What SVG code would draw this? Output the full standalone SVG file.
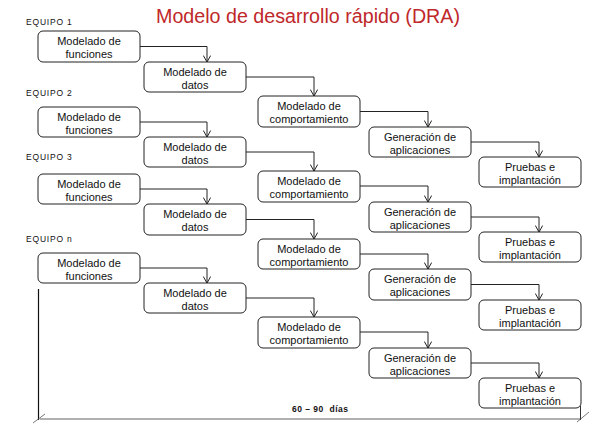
<svg xmlns="http://www.w3.org/2000/svg" width="613" height="429" viewBox="0 0 613 429">
<style>
.box{fill:#fff;stroke:#222;stroke-width:1}
.t{font-family:"Liberation Sans",Arial,sans-serif;font-size:11px;fill:#111;text-anchor:middle}
.eq{font-family:"Liberation Sans",Arial,sans-serif;font-size:8.5px;fill:#111;letter-spacing:0.8px}
.c{fill:none;stroke:#222;stroke-width:1}
</style>
<defs>
<marker id="ah" viewBox="0 0 8 8" refX="7.5" refY="4" markerWidth="8" markerHeight="8" markerUnits="userSpaceOnUse" orient="auto">
<path d="M1,0.3 L7.5,4 L1,7.7" fill="none" stroke="#222" stroke-width="1"/>
</marker>
</defs>
<rect width="613" height="429" fill="#fff"/>
<text x="308" y="23" font-family="'Liberation Sans',Arial,sans-serif" font-size="20" fill="#c0282b" text-anchor="middle" textLength="304" lengthAdjust="spacingAndGlyphs">Modelo de desarrollo rápido (DRA)</text>

<g id="labels">
<text class="eq" x="26" y="25">EQUIPO 1</text>
<text class="eq" x="26" y="96">EQUIPO 2</text>
<text class="eq" x="26" y="160">EQUIPO 3</text>
<text class="eq" x="26" y="242">EQUIPO n</text>
</g>

<g id="connectors">
<!-- team 1 -->
<path class="c" d="M140,46.5 H207 V62" marker-end="url(#ah)"/>
<path class="c" d="M246,77 H314 V96" marker-end="url(#ah)"/>
<path class="c" d="M360,111.5 H428 V127" marker-end="url(#ah)"/>
<path class="c" d="M471,142 H539 V157" marker-end="url(#ah)"/>
<!-- team 2 -->
<path class="c" d="M140,122 H207 V137" marker-end="url(#ah)"/>
<path class="c" d="M246,152 H314 V171" marker-end="url(#ah)"/>
<path class="c" d="M360,186 H428 V202" marker-end="url(#ah)"/>
<path class="c" d="M471,217 H539 V232" marker-end="url(#ah)"/>
<!-- team 3 -->
<path class="c" d="M140,189 H207 V204" marker-end="url(#ah)"/>
<path class="c" d="M246,219.5 H314 V239" marker-end="url(#ah)"/>
<path class="c" d="M360,254 H428 V269" marker-end="url(#ah)"/>
<path class="c" d="M471,284.5 H539 V300" marker-end="url(#ah)"/>
<!-- team n -->
<path class="c" d="M140,268 H207 V283" marker-end="url(#ah)"/>
<path class="c" d="M246,298 H314 V317" marker-end="url(#ah)"/>
<path class="c" d="M360,332 H428 V348" marker-end="url(#ah)"/>
<path class="c" d="M471,363 H539 V378" marker-end="url(#ah)"/>
</g>

<g id="team1">
<g id="f1"><rect class="box" x="38" y="31" width="102" height="31" rx="5"/><text class="t" x="89" y="45">Modelado de</text><text class="t" x="89" y="58">funciones</text></g>
<g id="d1"><rect class="box" x="144" y="62" width="102" height="30" rx="5"/><text class="t" x="195" y="76">Modelado de</text><text class="t" x="195" y="89">datos</text></g>
<g id="c1"><rect class="box" x="258" y="96" width="102" height="31" rx="5"/><text class="t" x="309" y="110">Modelado de</text><text class="t" x="309" y="123">comportamiento</text></g>
<g id="g1"><rect class="box" x="369" y="127" width="102" height="30" rx="5"/><text class="t" x="420" y="141">Generación de</text><text class="t" x="420" y="154">aplicaciones</text></g>
<g id="p1"><rect class="box" x="479" y="157" width="102" height="30" rx="5"/><text class="t" x="530" y="171">Pruebas e</text><text class="t" x="530" y="184">implantación</text></g>
</g>

<g id="team2">
<g id="f2"><rect class="box" x="38" y="107" width="102" height="30" rx="5"/><text class="t" x="89" y="121">Modelado de</text><text class="t" x="89" y="134">funciones</text></g>
<g id="d2"><rect class="box" x="144" y="137" width="102" height="30" rx="5"/><text class="t" x="195" y="151">Modelado de</text><text class="t" x="195" y="164">datos</text></g>
<g id="c2"><rect class="box" x="258" y="171" width="102" height="31" rx="5"/><text class="t" x="309" y="185">Modelado de</text><text class="t" x="309" y="198">comportamiento</text></g>
<g id="g2"><rect class="box" x="369" y="202" width="102" height="30" rx="5"/><text class="t" x="420" y="216">Generación de</text><text class="t" x="420" y="229">aplicaciones</text></g>
<g id="p2"><rect class="box" x="479" y="232" width="102" height="30" rx="5"/><text class="t" x="530" y="246">Pruebas e</text><text class="t" x="530" y="259">implantación</text></g>
</g>

<g id="team3">
<g id="f3"><rect class="box" x="38" y="174" width="102" height="30" rx="5"/><text class="t" x="89" y="188">Modelado de</text><text class="t" x="89" y="201">funciones</text></g>
<g id="d3"><rect class="box" x="144" y="204" width="102" height="31" rx="5"/><text class="t" x="195" y="218">Modelado de</text><text class="t" x="195" y="231">datos</text></g>
<g id="c3"><rect class="box" x="258" y="239" width="102" height="30" rx="5"/><text class="t" x="309" y="253">Modelado de</text><text class="t" x="309" y="266">comportamiento</text></g>
<g id="g3"><rect class="box" x="369" y="269" width="102" height="31" rx="5"/><text class="t" x="420" y="283">Generación de</text><text class="t" x="420" y="296">aplicaciones</text></g>
<g id="p3"><rect class="box" x="479" y="300" width="102" height="30" rx="5"/><text class="t" x="530" y="314">Pruebas e</text><text class="t" x="530" y="327">implantación</text></g>
</g>

<g id="teamn">
<g id="fn"><rect class="box" x="38" y="253" width="102" height="30" rx="5"/><text class="t" x="89" y="267">Modelado de</text><text class="t" x="89" y="280">funciones</text></g>
<g id="dn"><rect class="box" x="144" y="283" width="102" height="30" rx="5"/><text class="t" x="195" y="297">Modelado de</text><text class="t" x="195" y="310">datos</text></g>
<g id="cn"><rect class="box" x="258" y="317" width="102" height="31" rx="5"/><text class="t" x="309" y="331">Modelado de</text><text class="t" x="309" y="344">comportamiento</text></g>
<g id="gn"><rect class="box" x="369" y="348" width="102" height="30" rx="5"/><text class="t" x="420" y="362">Generación de</text><text class="t" x="420" y="375">aplicaciones</text></g>
<g id="pn"><rect class="box" x="479" y="378" width="102" height="30" rx="5"/><text class="t" x="530" y="392">Pruebas e</text><text class="t" x="530" y="405">implantación</text></g>
</g>

<g id="timeline">
<line x1="38.5" y1="289" x2="38.5" y2="420" stroke="#111" stroke-width="1.2"/>
<line x1="40" y1="419" x2="580" y2="419" stroke="#b0b0b0" stroke-width="2"/>
<line x1="580.5" y1="406" x2="580.5" y2="420" stroke="#333" stroke-width="1"/>
<line x1="33" y1="423" x2="45" y2="414" stroke="#555" stroke-width="0.8"/>
<line x1="577" y1="422" x2="589" y2="412" stroke="#555" stroke-width="0.8"/>
<text x="292" y="412" font-family="'Liberation Sans',Arial,sans-serif" font-size="8.5" font-weight="bold" fill="#111" textLength="56" lengthAdjust="spacing" xml:space="preserve">60 – 90  días</text>
</g>
</svg>
